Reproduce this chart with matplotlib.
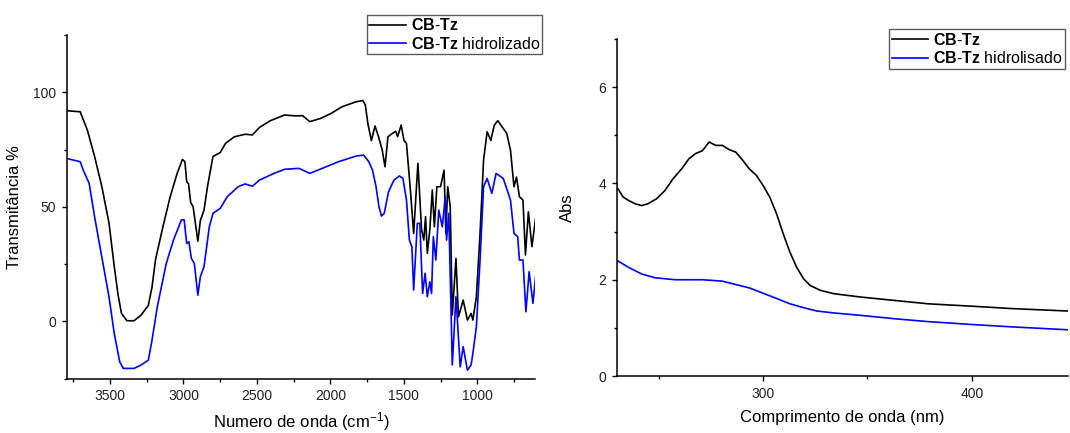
import matplotlib
matplotlib.use('Agg')
import matplotlib.pyplot as plt
from matplotlib.ticker import MultipleLocator

plt.rcParams['font.family'] = ['Liberation Sans', 'DejaVu Sans']
plt.rcParams['mathtext.fontset'] = 'custom'
plt.rcParams['mathtext.rm'] = 'Liberation Sans'
plt.rcParams['mathtext.bf'] = 'Liberation Sans:bold'
plt.rcParams['mathtext.it'] = 'Liberation Sans:italic'

# FTIR - CB-Tz
ir_cbtz_x = [3800, 3703, 3654, 3605, 3556, 3507, 3471, 3446, 3422, 3385, 3336, 3288,
             3239, 3214, 3190, 3141, 3092, 3043, 3007, 2990, 2978, 2965, 2951, 2934,
             2902, 2885, 2860, 2836, 2799, 2750, 2714, 2653, 2580, 2531, 2482, 2409,
             2311, 2238, 2189, 2140, 2067, 1994, 1921, 1823, 1779, 1762, 1745, 1721,
             1696, 1672, 1647, 1628, 1608, 1579, 1555, 1542, 1518, 1499, 1482, 1457,
             1433, 1404, 1379, 1364, 1352, 1340, 1323, 1306, 1292, 1275, 1250, 1226,
             1214, 1201, 1184, 1170, 1145, 1128, 1096, 1067, 1042, 1030, 1006, 981,
             957, 933, 908, 884, 860, 799, 774, 750, 733, 713, 689, 672, 652, 628, 603]
ir_cbtz_y = [92, 91.5, 83.5, 72, 59, 43, 24, 12, 3.5, 0.3, 0.3, 2.8,
             7, 15, 27, 41, 54, 64.6, 70.7, 69.7, 61, 60, 52, 50,
             35, 44, 48.6, 59, 72, 73.7, 77.7, 80.6, 81.7, 81.4, 84.7, 87.6,
             90.1, 89.7, 89.8, 87.2, 88.6, 90.8, 93.7, 95.9, 96.4, 94.5, 86.5, 78.9,
             85.3, 80.6, 74.8, 67.5, 80.6, 82, 83, 80.6, 85.7, 79, 77.7, 58.8,
             38.4, 69, 40, 35.5, 45.7, 29.7, 40, 57.4, 41.3, 58.8, 58.8, 66,
             38.4, 58.8, 50, 2.8, 27.5, 2, 9.3, 0.6, 3.5, 0.6, 10.8, 38.4,
             70.5, 82.8, 79, 85.7, 87.6, 82, 74.8, 58.8, 63, 54.4, 53, 29, 47.9, 32.6, 45]

# FTIR - CB-Tz hidrolizado
ir_hid_x = [3800, 3703, 3678, 3642, 3605, 3556, 3507, 3471, 3434, 3410, 3336, 3288,
            3239, 3214, 3178, 3117, 3068, 3014, 2995, 2978, 2963, 2946, 2926, 2902,
            2885, 2860, 2824, 2799, 2750, 2702, 2628, 2580, 2531, 2482, 2384, 2311,
            2213, 2140, 2067, 1945, 1823, 1774, 1738, 1713, 1689, 1669, 1652, 1633,
            1604, 1567, 1530, 1506, 1482, 1462, 1445, 1433, 1408, 1391, 1372, 1355,
            1340, 1323, 1311, 1299, 1282, 1262, 1238, 1218, 1209, 1194, 1170, 1145,
            1116, 1096, 1067, 1042, 1030, 1006, 981, 957, 933, 901, 872, 823,
            774, 750, 725, 713, 689, 669, 647, 621, 603]
ir_hid_y = [71.2, 69.7, 65.4, 60.3, 45.7, 28.2, 10.8, -5.2, -17.6, -20.5, -20.5, -19,
            -16.9, -8.2, 6.4, 25.3, 35.5, 44.3, 44.3, 34, 34.8, 27.5, 25.3, 11.5,
            19.5, 23.9, 41.3, 47.2, 49.3, 54.4, 58.8, 60, 59, 61.7, 64.6, 66.4,
            66.8, 64.6, 66.5, 69.7, 72.2, 72.6, 69.7, 66, 58.8, 50, 46, 47.2,
            56.6, 61.7, 63.5, 62.4, 53, 35.5, 32.6, 13.7, 42.8, 42.8, 12.2, 21,
            10.8, 17.3, 12.2, 37, 26.8, 48.6, 41.3, 54.4, 35.5, 47.2, -19, 10.8,
            -19.8, -11, -21.3, -19, -14, -2.3, 26.8, 58.8, 62.4, 55.9, 64.6, 62.4,
            53, 38.4, 37, 26.8, 26.8, 4.2, 21.7, 7.9, 19.5]

# UV-Vis
uv_cbtz_x = [230.6, 233, 235.5, 238.7, 241.9, 245, 249, 253, 257, 261, 264.5, 267.7,
             271, 274.2, 277.4, 280.6, 283.9, 287, 290.3, 293.5, 296.8, 300, 303.2,
             306.5, 309.7, 312.9, 316.1, 319.4, 322.6, 327.4, 333.9, 346.8, 362.9,
             379, 400, 419.4, 446]
uv_cbtz_y = [3.89, 3.72, 3.65, 3.58, 3.54, 3.58, 3.68, 3.85, 4.1, 4.3, 4.51, 4.62,
             4.68, 4.86, 4.79, 4.79, 4.7, 4.65, 4.48, 4.3, 4.17, 3.96, 3.72,
             3.37, 2.95, 2.57, 2.26, 2.02, 1.88, 1.78, 1.71, 1.64, 1.57,
             1.5, 1.45, 1.4, 1.35]
uv_hid_x = [230.6, 235.5, 241.9, 248.4, 258, 271, 280.6, 287, 293.5, 300, 306.5,
            312.9, 319.4, 325.8, 333.9, 346.8, 362.9, 379, 400, 419.4, 446]
uv_hid_y = [2.39, 2.26, 2.12, 2.04, 2.0, 2.0, 1.97, 1.9, 1.83, 1.72, 1.61,
            1.5, 1.42, 1.35, 1.31, 1.26, 1.19, 1.13, 1.07, 1.02, 0.96]

lbl_cbtz = r'$\mathbf{CB}$-$\mathbf{Tz}$'


def estilo_eixo(ax):
    for lado in ['top', 'right']:
        ax.spines[lado].set_visible(False)
    for lado in ['left', 'bottom']:
        ax.spines[lado].set_linewidth(1.1)
    ax.tick_params(which='major', direction='out', length=3.6, width=1,
                   labelsize=10, pad=4, labelcolor='#222222')
    ax.tick_params(which='minor', direction='out', length=2.2, width=1)


fig = plt.figure(figsize=(10.7, 4.33), dpi=100)

ax1 = fig.add_axes([0.0623, 0.1254, 0.4377, 0.7937])
ax1.plot(ir_cbtz_x, ir_cbtz_y, color='black', linewidth=1.2, label=lbl_cbtz)
ax1.plot(ir_hid_x, ir_hid_y, color='#0000ff', linewidth=1.2,
         label=lbl_cbtz + ' hidrolizado')
ax1.set_xlim(3795, 607)
ax1.set_ylim(-25, 125)
ax1.xaxis.set_major_locator(MultipleLocator(500))
ax1.xaxis.set_minor_locator(MultipleLocator(250))
ax1.yaxis.set_major_locator(MultipleLocator(50))
ax1.yaxis.set_minor_locator(MultipleLocator(25))
estilo_eixo(ax1)
ax1.set_xlabel(r'Numero de onda (cm$^{-1}$)', fontsize=12, labelpad=5)
ax1.set_ylabel('Transmitância %', fontsize=12, labelpad=8)
leg1 = ax1.legend(loc='upper right', bbox_to_anchor=(0.5068, 0.966),
                  bbox_transform=fig.transFigure, fontsize=11.5, frameon=True,
                  fancybox=False, handlelength=2.3, handletextpad=0.3,
                  borderpad=0.15, labelspacing=0.15, borderaxespad=0)
leg1.get_frame().set_edgecolor('#333333')
leg1.get_frame().set_linewidth(1.0)

ax2 = fig.add_axes([0.5764, 0.1316, 0.4218, 0.7783])
ax2.plot(uv_cbtz_x, uv_cbtz_y, color='black', linewidth=1.2, label=lbl_cbtz)
ax2.plot(uv_hid_x, uv_hid_y, color='#0000ff', linewidth=1.2,
         label=lbl_cbtz + ' hidrolisado')
ax2.set_xlim(230, 446)
ax2.set_ylim(0, 7)
ax2.xaxis.set_major_locator(MultipleLocator(100))
ax2.xaxis.set_minor_locator(MultipleLocator(50))
ax2.yaxis.set_major_locator(MultipleLocator(2))
ax2.yaxis.set_minor_locator(MultipleLocator(1))
estilo_eixo(ax2)
ax2.set_xlabel('Comprimento de onda (nm)', fontsize=12, labelpad=7)
ax2.set_ylabel('Abs', fontsize=12, labelpad=17)
leg2 = ax2.legend(loc='upper right', bbox_to_anchor=(0.9953, 0.9323),
                  bbox_transform=fig.transFigure, fontsize=11.5, frameon=True,
                  fancybox=False, handlelength=2.3, handletextpad=0.3,
                  borderpad=0.15, labelspacing=0.15, borderaxespad=0)
leg2.get_frame().set_edgecolor('#333333')
leg2.get_frame().set_linewidth(1.0)

fig.savefig('out.png', dpi=100)
